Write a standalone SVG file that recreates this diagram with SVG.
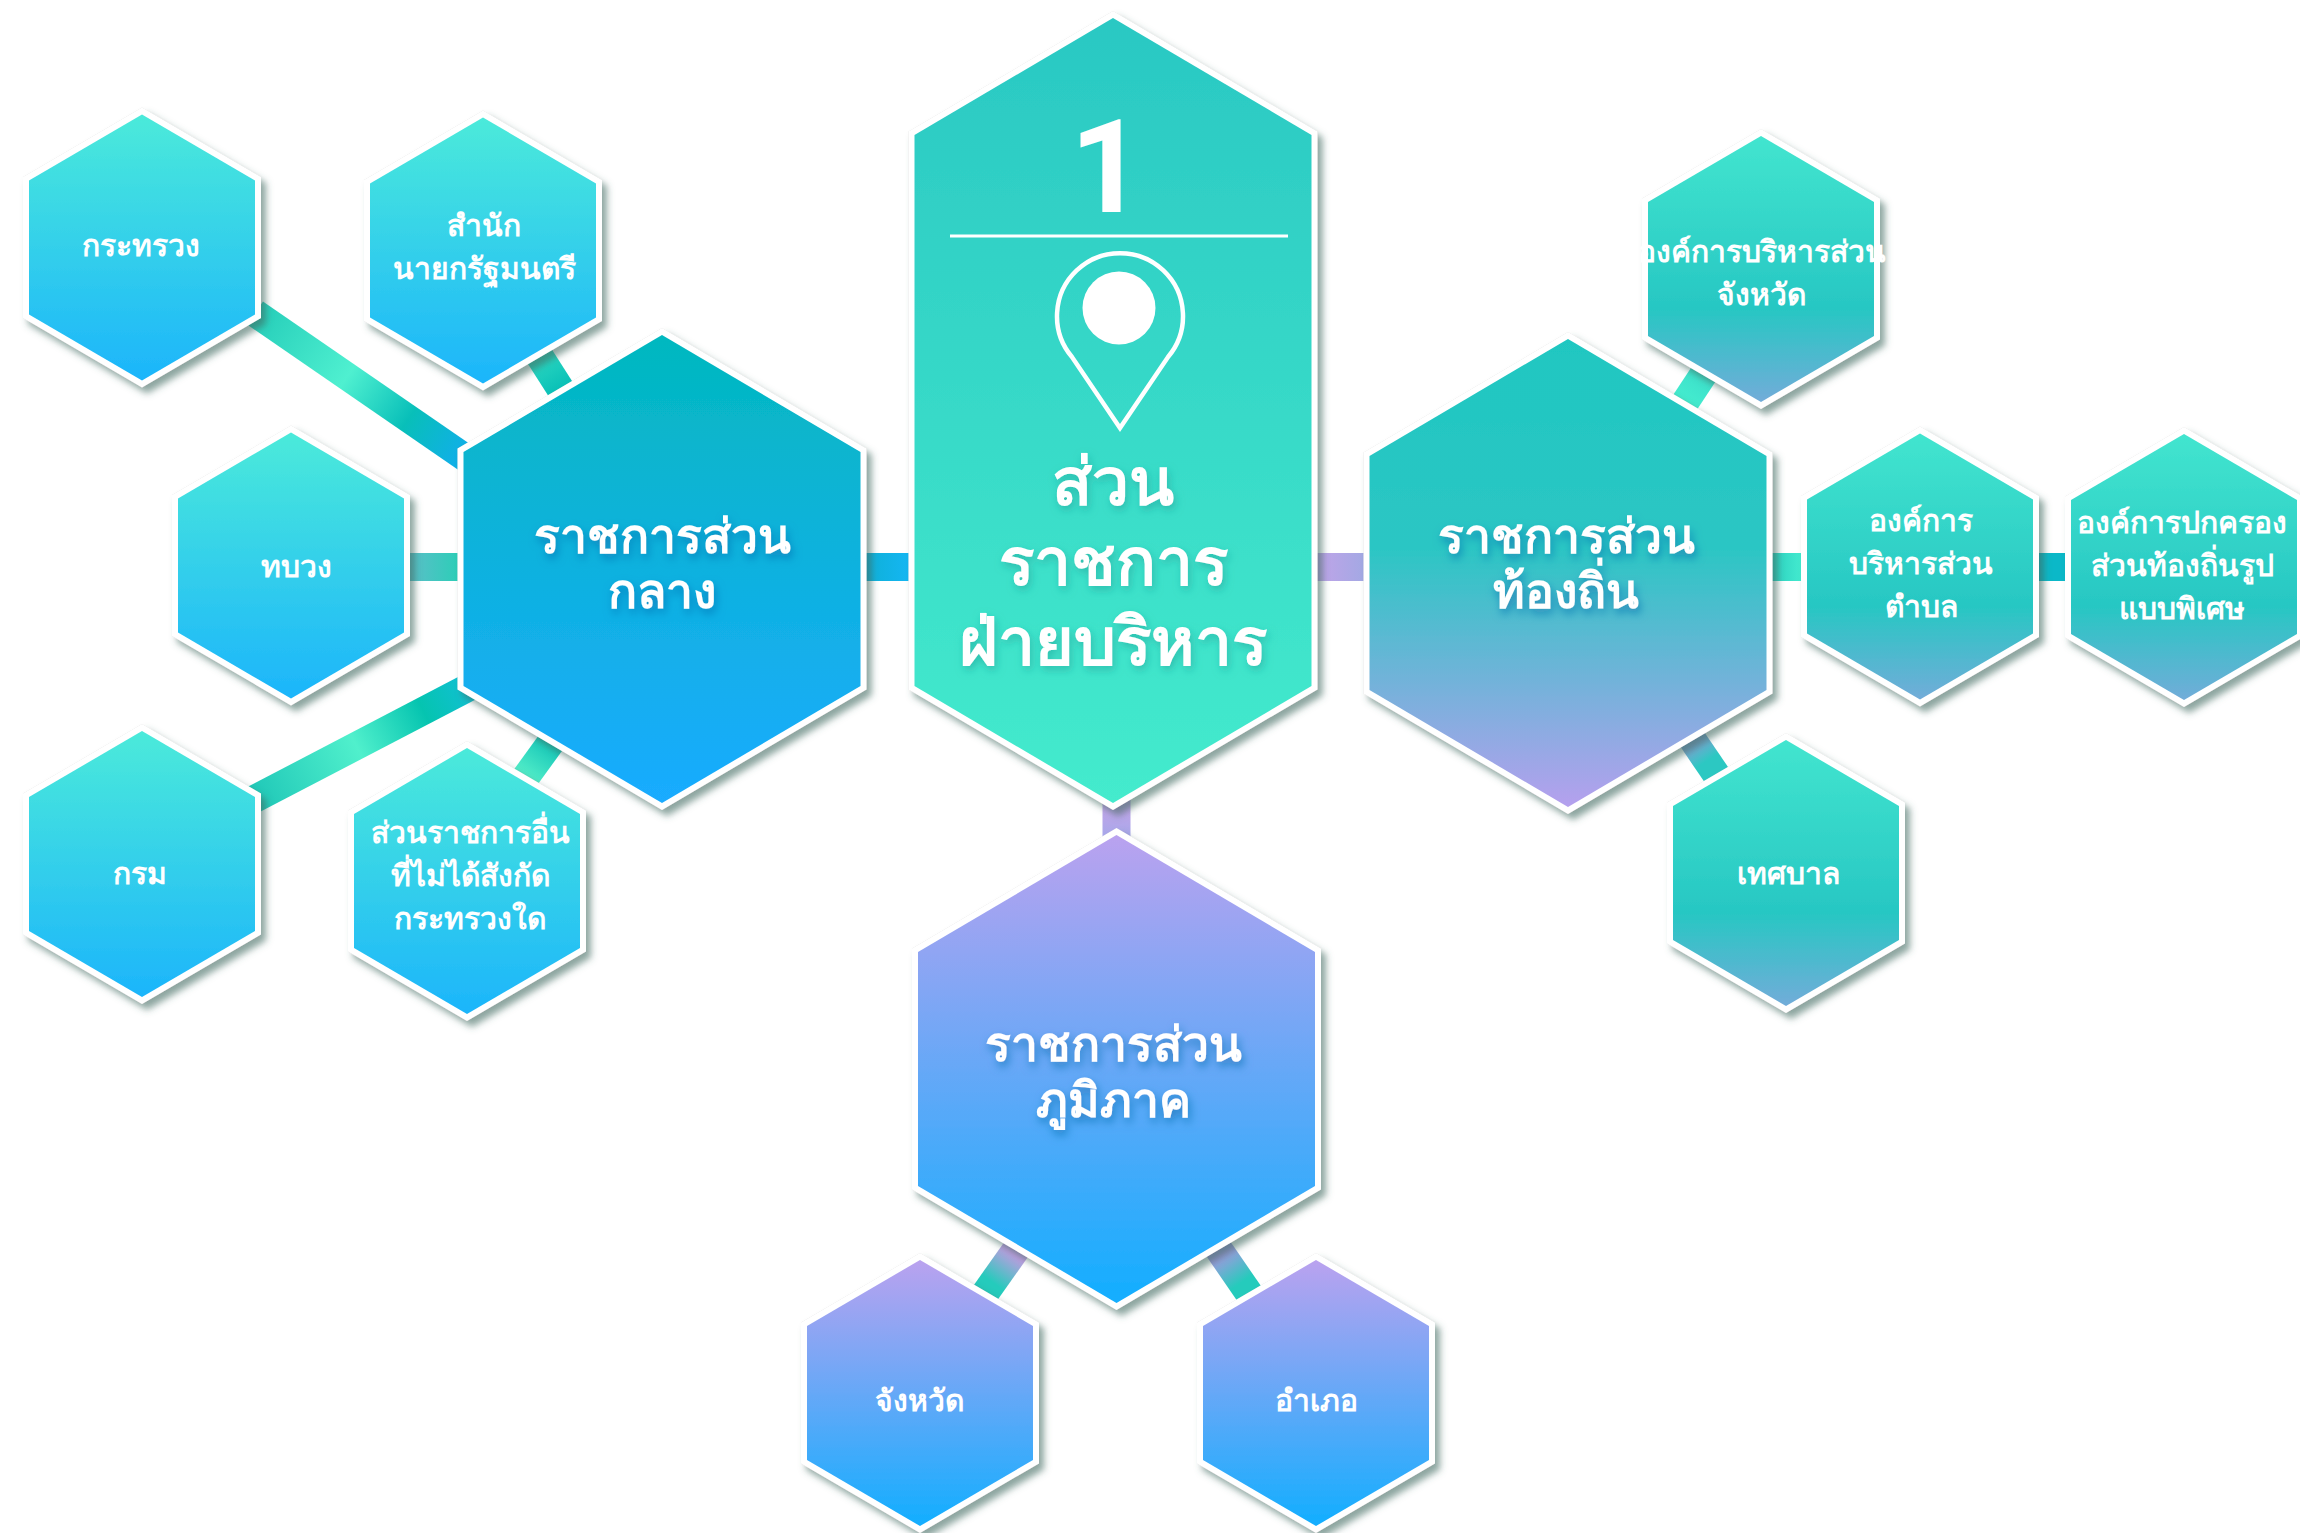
<svg xmlns="http://www.w3.org/2000/svg" width="2300" height="1533" viewBox="0 0 2300 1533">
<style>
text{font-family:"Noto Sans","Open Sans","DejaVu Sans",sans-serif;fill:#fff;text-anchor:middle}
.s{font-size:30px;font-weight:600}
.b{font-size:48px;font-weight:600;filter:url(#ts)}
.m{font-size:66px;font-weight:600;filter:url(#tm)}
.h{stroke:#fff;stroke-width:12;stroke-linejoin:miter;paint-order:stroke;filter:url(#ds)}
.c{fill:none;stroke-width:28}
</style>
<defs>
<filter id="ds" x="-12%" y="-12%" width="130%" height="130%"><feDropShadow dx="0" dy="0" stdDeviation="0.6" flood-color="#9a9a9a" flood-opacity="0.5" result="e"/><feDropShadow in="e" dx="5" dy="6" stdDeviation="3.500" flood-color="#3f6b60" flood-opacity="0.6"/></filter>
<filter id="ts" x="-10%" y="-20%" width="120%" height="150%"><feDropShadow dx="2" dy="5" stdDeviation="5" flood-color="#0c6fb0" flood-opacity="0.7"/></filter>
<filter id="tm" x="-10%" y="-20%" width="120%" height="150%"><feDropShadow dx="2" dy="4" stdDeviation="4" flood-color="#1f9f95" flood-opacity="0.55"/></filter>
<linearGradient id="gM" x1="0" y1="0" x2="0" y2="1"><stop offset="0" stop-color="#2ac8c3"/><stop offset="1" stop-color="#44ebcd"/></linearGradient>
<linearGradient id="gC" x1="0" y1="0" x2="0" y2="1"><stop offset="0" stop-color="#03b8bf"/><stop offset="1" stop-color="#1aabff"/></linearGradient>
<linearGradient id="gS" x1="0" y1="0" x2="0" y2="1"><stop offset="0" stop-color="#4beada"/><stop offset="1" stop-color="#1cb5fb"/></linearGradient>
<linearGradient id="gL" x1="0" y1="0" x2="0" y2="1"><stop offset="0" stop-color="#1fc7c1"/><stop offset="0.45" stop-color="#2cc6c4"/><stop offset="1" stop-color="#b5a0ee"/></linearGradient>
<linearGradient id="gT" x1="0" y1="0" x2="0" y2="1"><stop offset="0" stop-color="#42e5cf"/><stop offset="0.65" stop-color="#27c7c3"/><stop offset="1" stop-color="#72acd9"/></linearGradient>
<linearGradient id="gR" x1="0" y1="0" x2="0" y2="1"><stop offset="0" stop-color="#baa2ef"/><stop offset="1" stop-color="#12aeff"/></linearGradient>
<linearGradient id="cA" gradientUnits="userSpaceOnUse" x1="255" y1="313" x2="460" y2="454"><stop offset="0" stop-color="#25cdb9"/><stop offset="0.45" stop-color="#4ff0d0"/><stop offset="0.75" stop-color="#08bfb9"/><stop offset="1" stop-color="#10b0e6"/></linearGradient>
<linearGradient id="cB" gradientUnits="userSpaceOnUse" x1="256" y1="798" x2="465" y2="689"><stop offset="0" stop-color="#20c8b8"/><stop offset="0.48" stop-color="#50f0cc"/><stop offset="0.8" stop-color="#05c4b0"/><stop offset="1" stop-color="#10c0d0"/></linearGradient>
<linearGradient id="c2" gradientUnits="userSpaceOnUse" x1="541" y1="358" x2="559" y2="386"><stop offset="0" stop-color="#2ad6c0"/><stop offset="1" stop-color="#0cc2b8"/></linearGradient>
<linearGradient id="c3" gradientUnits="userSpaceOnUse" x1="410" y1="0" x2="457" y2="0"><stop offset="0" stop-color="#5bbfc8"/><stop offset="1" stop-color="#2ecdb8"/></linearGradient>
<linearGradient id="c5" gradientUnits="userSpaceOnUse" x1="549" y1="745" x2="527" y2="775"><stop offset="0" stop-color="#18c8b8"/><stop offset="1" stop-color="#50ecc8"/></linearGradient>
<linearGradient id="c6" gradientUnits="userSpaceOnUse" x1="867" y1="0" x2="908" y2="0"><stop offset="0" stop-color="#0fb0d8"/><stop offset="1" stop-color="#14b6f2"/></linearGradient>
<linearGradient id="c7" gradientUnits="userSpaceOnUse" x1="1317" y1="0" x2="1363" y2="0"><stop offset="0" stop-color="#c0a4e8"/><stop offset="1" stop-color="#a4a8e4"/></linearGradient>
<linearGradient id="c8" gradientUnits="userSpaceOnUse" x1="0" y1="806" x2="0" y2="836"><stop offset="0" stop-color="#c2a4e8"/><stop offset="1" stop-color="#a8a8ea"/></linearGradient>
<linearGradient id="c9" gradientUnits="userSpaceOnUse" x1="1013" y1="1254" x2="986" y2="1292"><stop offset="0" stop-color="#bd9ee0"/><stop offset="0.75" stop-color="#25cbbc"/></linearGradient>
<linearGradient id="c10" gradientUnits="userSpaceOnUse" x1="1222" y1="1254" x2="1248" y2="1292"><stop offset="0" stop-color="#a09ae0"/><stop offset="0.75" stop-color="#25cbbc"/></linearGradient>
<linearGradient id="c11" gradientUnits="userSpaceOnUse" x1="1703" y1="375" x2="1686" y2="400"><stop offset="0" stop-color="#3cdfca"/><stop offset="1" stop-color="#44eccf"/></linearGradient>
<linearGradient id="c12" gradientUnits="userSpaceOnUse" x1="1774" y1="0" x2="1802" y2="0"><stop offset="0" stop-color="#2dd0c0"/><stop offset="1" stop-color="#44ecd0"/></linearGradient>
<linearGradient id="c14" gradientUnits="userSpaceOnUse" x1="1695" y1="743" x2="1715" y2="773"><stop offset="0" stop-color="#7fa5d6"/><stop offset="0.6" stop-color="#2cc8c2"/></linearGradient>
<polygon id="hs" points="0,-133 113,-67 113,67 0,133 -113,67 -113,-67"/>
<polygon id="hb" points="0,-234 198.500,-117 198.500,117 0,234 -198.500,117 -198.500,-117"/>
</defs>
<g id="connectors">
<line class="c" x1="255" y1="313" x2="470" y2="461" stroke="url(#cA)"/>
<line class="c" x1="535" y1="349" x2="565" y2="396" stroke="url(#c2)"/>
<line class="c" x1="400" y1="567" x2="470" y2="567" stroke="url(#c3)"/>
<line class="c" x1="245" y1="804" x2="475" y2="684" stroke="url(#cB)"/>
<line class="c" x1="557" y1="734" x2="520" y2="785" stroke="url(#c5)"/>
<line class="c" x1="855" y1="567" x2="920" y2="567" stroke="url(#c6)"/>
<line class="c" x1="1305" y1="567" x2="1375" y2="567" stroke="url(#c7)"/>
<line class="c" x1="1116.500" y1="795" x2="1116.500" y2="845" stroke="url(#c8)"/>
<line class="c" x1="1020" y1="1244" x2="979" y2="1302" stroke="url(#c9)" stroke-width="30"/>
<line class="c" x1="1215" y1="1244" x2="1255" y2="1302" stroke="url(#c10)" stroke-width="30"/>
<line class="c" x1="1709" y1="366" x2="1680" y2="410" stroke="url(#c11)"/>
<line class="c" x1="1765" y1="567" x2="1810" y2="567" stroke="url(#c12)"/>
<line class="c" x1="2030" y1="567" x2="2075" y2="567" stroke="#0bb8c8"/>
<line class="c" x1="1688" y1="733" x2="1722" y2="783" stroke="url(#c14)"/>
</g>
<g id="n-ministry"><use href="#hs" x="142" y="247.500" fill="url(#gS)" class="h"/><text class="s" x="141" y="256">กระทรวง</text></g>
<g id="n-pm"><use href="#hs" x="483" y="250.500" fill="url(#gS)" class="h"/><text class="s" x="484" y="236">สำนัก</text><text class="s" x="484" y="279">นายกรัฐมนตรี</text></g>
<g id="n-thabuang"><use href="#hs" x="291" y="565.500" fill="url(#gS)" class="h"/><text class="s" x="296" y="577">ทบวง</text></g>
<g id="n-krom"><use href="#hs" x="142" y="864" fill="url(#gS)" class="h"/><text class="s" x="140" y="884">กรม</text></g>
<g id="n-other"><use href="#hs" x="467" y="881" fill="url(#gS)" class="h"/><text class="s" x="470" y="843">ส่วนราชการอื่น</text><text class="s" x="470" y="886">ที่ไม่ได้สังกัด</text><text class="s" x="470" y="929">กระทรวงใด</text></g>
<g id="n-central"><use href="#hb" x="662" y="569" fill="url(#gC)" class="h"/><text class="b" x="662" y="553">ราชการส่วน<tspan x="662" y="608">กลาง</tspan></text></g>
<g id="n-main"><polygon points="1113,18 1311.500,135 1311.500,686 1113,803 914.500,686 914.500,135" fill="url(#gM)" class="h"/><text x="1107" y="212" style="font-family:Roboto,sans-serif;font-size:129px;font-weight:700">1</text><line x1="950" y1="236" x2="1288" y2="236" stroke="#fff" stroke-width="3"/><path d="M1120 428L1072 357A63 63 0 1 1 1168 357Z" fill="none" stroke="#fff" stroke-width="4.500"/><circle cx="1119" cy="308" r="36.500" fill="#fff"/><text class="m" x="1113" y="505">ส่วน<tspan x="1113" y="585">ราชการ</tspan><tspan x="1113" y="665">ฝ่ายบริหาร</tspan></text></g>
<g id="n-local"><use href="#hb" x="1568" y="573" fill="url(#gL)" class="h"/><text class="b" x="1566" y="553">ราชการส่วน<tspan x="1566" y="608">ท้องถิ่น</tspan></text></g>
<g id="n-region"><use href="#hb" x="1116.500" y="1069" fill="url(#gR)" class="h"/><text class="b" x="1113" y="1061">ราชการส่วน<tspan x="1113" y="1117">ภูมิภาค</tspan></text></g>
<g id="n-province"><use href="#hs" x="920" y="1393" fill="url(#gR)" class="h"/><text class="s" x="919" y="1411">จังหวัด</text></g>
<g id="n-district"><use href="#hs" x="1316" y="1393" fill="url(#gR)" class="h"/><text class="s" x="1316" y="1411">อำเภอ</text></g>
<g id="n-pao"><use href="#hs" x="1761" y="269" fill="url(#gT)" class="h"/><text class="s" x="1762" y="262">องค์การบริหารส่วน</text><text class="s" x="1761" y="305">จังหวัด</text></g>
<g id="n-sao"><use href="#hs" x="1920" y="566.500" fill="url(#gT)" class="h"/><text class="s" x="1921" y="531">องค์การ</text><text class="s" x="1921" y="574">บริหารส่วน</text><text class="s" x="1921" y="617">ตำบล</text></g>
<g id="n-special"><use href="#hs" x="2184" y="567" fill="url(#gT)" class="h"/><text class="s" x="2182" y="533">องค์การปกครอง</text><text class="s" x="2182" y="576">ส่วนท้องถิ่นรูป</text><text class="s" x="2182" y="619">แบบพิเศษ</text></g>
<g id="n-muni"><use href="#hs" x="1786" y="873" fill="url(#gT)" class="h"/><text class="s" x="1788" y="884">เทศบาล</text></g>
</svg>
